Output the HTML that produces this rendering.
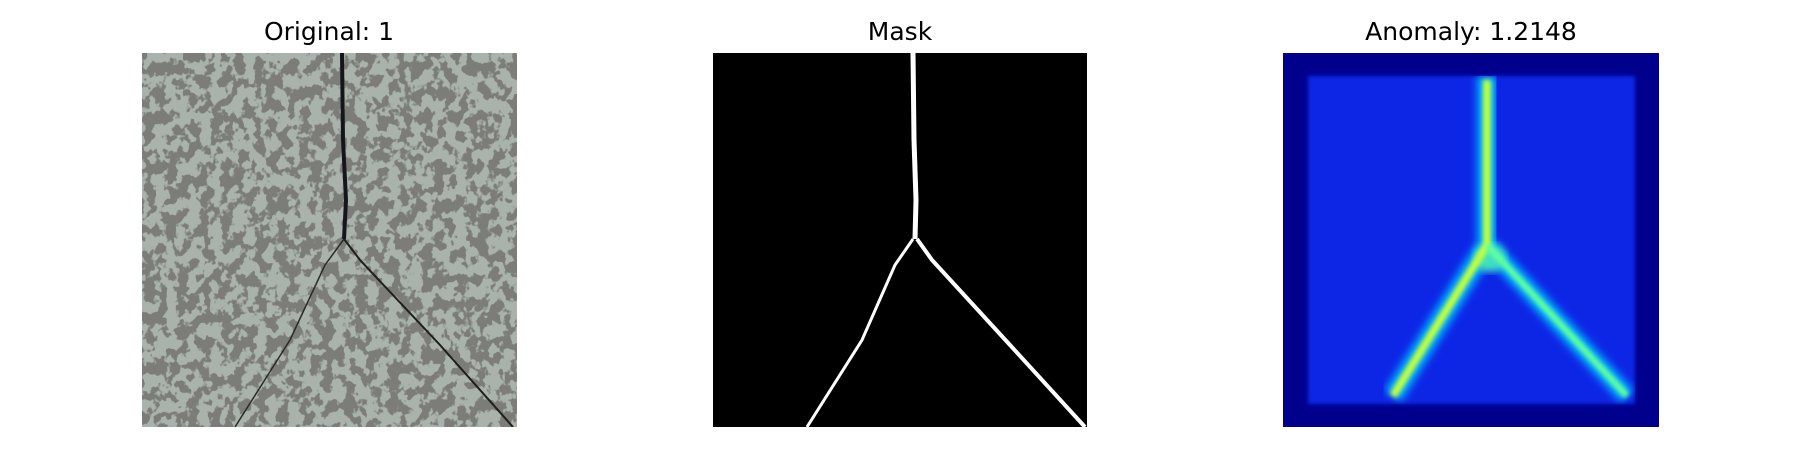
<!DOCTYPE html>
<html><head><meta charset="utf-8"><style>
html,body{margin:0;padding:0;background:#fff;width:1800px;height:450px;overflow:hidden}
text{font-family:"DejaVu Sans","Liberation Sans",sans-serif}
</style></head><body>
<svg width="1800" height="450" viewBox="0 0 1800 450">
<defs>
<filter id="blobs" x="0" y="0" width="100%" height="100%">
<feTurbulence type="fractalNoise" baseFrequency="0.09 0.08" numOctaves="3" seed="4"/>
<feColorMatrix type="matrix" values="0 0 0 0 0.2  0 0 0 0 0.2  0 0 0 0 0.19  -14 0 0 0 7.4"/>
</filter>
<filter id="blur4"><feGaussianBlur stdDeviation="4"/></filter>
<filter id="blur2"><feGaussianBlur stdDeviation="2"/></filter>
<clipPath id="c1"><rect x="142" y="53" width="375" height="374"/></clipPath>
<clipPath id="c2"><rect x="713" y="53" width="374" height="374"/></clipPath>
<clipPath id="c3"><rect x="1308" y="76" width="327" height="328"/></clipPath>
</defs>

<text x="329" y="40" font-size="25" text-anchor="middle">Original: 1</text>
<text x="900" y="40" font-size="25" text-anchor="middle">Mask</text>
<text x="1471" y="40" font-size="25" text-anchor="middle">Anomaly: 1.2148</text>

<g clip-path="url(#c1)">
<rect x="142" y="53" width="375" height="374" fill="#a9b3ab"/>
<rect x="142" y="53" width="375" height="374" filter="url(#blobs)"/>
<polyline points="342,53 343,140 346,200 344,239" fill="none" stroke="#15161c" stroke-width="4"/>
<polyline points="344,239 325,265 290,340 235,427" fill="none" stroke="#2a2a2a" stroke-width="1.5"/>
<polyline points="344,239 360,260 440,345 513,427" fill="none" stroke="#1e1e1e" stroke-width="2"/>
</g>

<g clip-path="url(#c2)">
<rect x="713" y="53" width="374" height="374" fill="#000"/>
<polyline points="913,53 914,140 916,200 915,239" fill="none" stroke="#fff" stroke-width="5"/>
<polyline points="913,239 895,265 862,340 807,427" fill="none" stroke="#fff" stroke-width="3"/>
<polyline points="917,239 932,260 1010,345 1085,427" fill="none" stroke="#fff" stroke-width="4"/>
</g>

<g>
<rect x="1283" y="53" width="376" height="374" fill="#00008c"/>
<rect x="1308" y="76" width="327" height="328" fill="#0828e6" filter="url(#blur2)"/>
<g clip-path="url(#c3)">
<polyline points="1487,76 1487,245 1393,396" fill="none" stroke="#00b0ff" stroke-width="20" filter="url(#blur4)"/>
<polyline points="1487,245 1627,396" fill="none" stroke="#00b0ff" stroke-width="18" filter="url(#blur4)"/>
<ellipse cx="1490" cy="258" rx="16" ry="14" fill="#40e0c0" filter="url(#blur4)"/>
<polyline points="1487,80 1487,245 1393,396" fill="none" stroke="#c0ff40" stroke-width="8" filter="url(#blur2)"/>
<polyline points="1487,245 1627,396" fill="none" stroke="#60ffa0" stroke-width="7" filter="url(#blur2)"/>
<line x1="1487" y1="80" x2="1487" y2="252" stroke="#ffd000" stroke-width="9" filter="url(#blur2)"/>
<line x1="1487" y1="80" x2="1487" y2="118" stroke="#c80000" stroke-width="8" filter="url(#blur2)"/>
<line x1="1487" y1="195" x2="1487" y2="228" stroke="#ff6000" stroke-width="7" filter="url(#blur2)"/>
</g>
</g>
</svg>
</body></html>
